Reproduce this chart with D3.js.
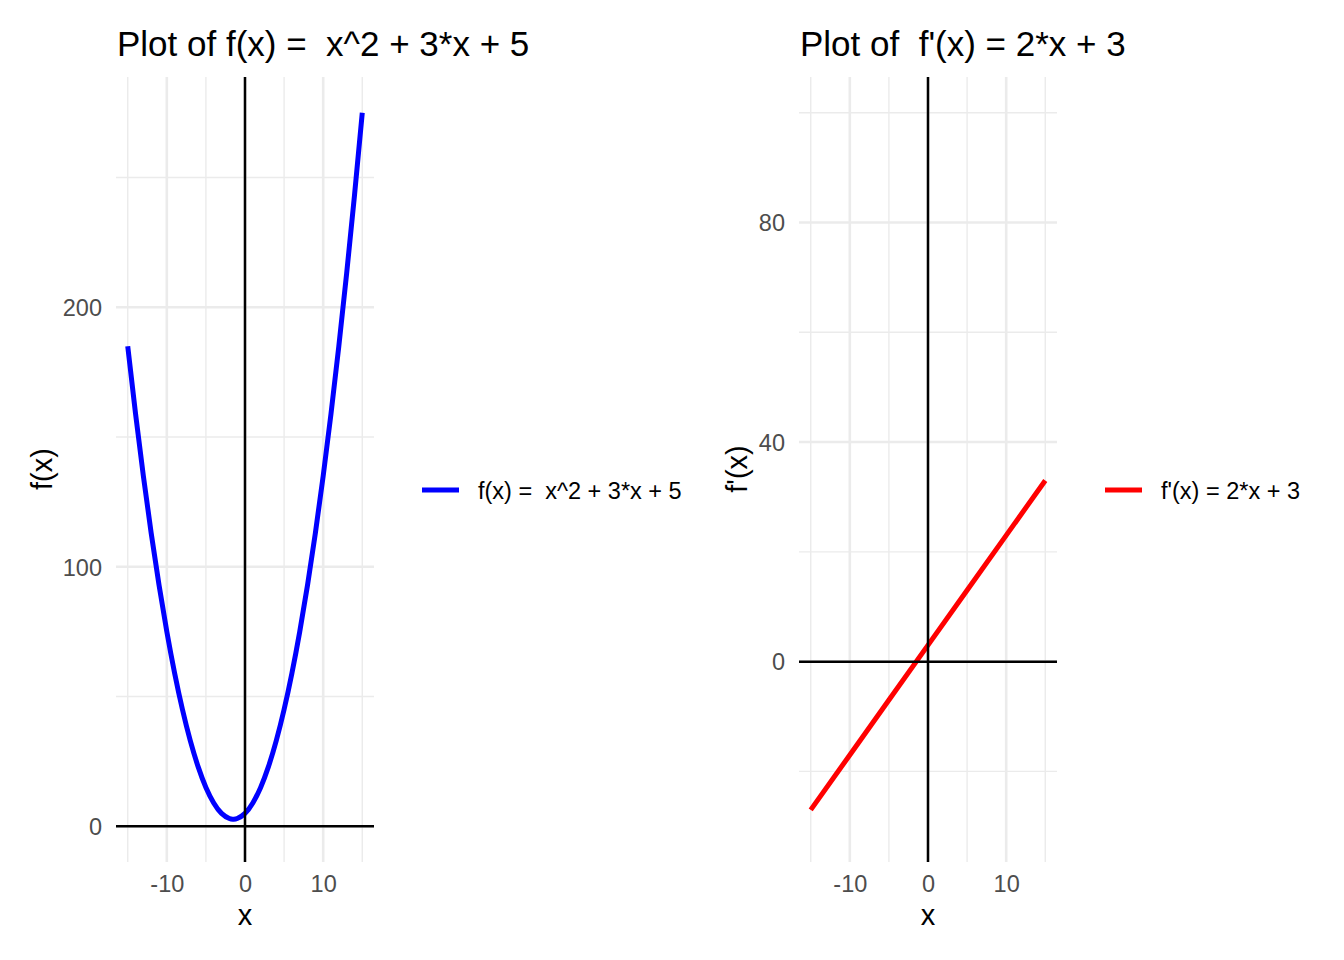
<!DOCTYPE html>
<html><head><meta charset="utf-8">
<script src="https://cdn.jsdelivr.net/npm/d3@7"></script>
<style>body{margin:0;background:#fff}svg{display:block;font-family:"Liberation Sans",Arial,sans-serif}text{white-space:pre}</style>
</head><body><svg id="c" width="1344" height="960"></svg>
<script>
// Data
const fX = [-15,-14,-13,-12,-11,-10,-9,-8,-7,-6,-5,-4,-3,-2,-1.5,-1,0,1,2,3,4,5,6,7,8,9,10,11,12,13,14,15];
const fY = [185,159,135,113,93,75,59,45,33,23,15,9,5,3,2.75,3,5,9,15,23,33,45,59,75,93,113,135,159,185,213,243,275];
const dX = [-15,-10,-5,0,5,10,15];
const dY = [-27,-17,-7,3,13,23,33];
const xTicks = [-10,0,10];
const xMinor = [-15,-5,5,15];
const fYTicks = [0,100,200];
const fYMinor = [50,150,250];
const dYTicks = [0,40,80];
const dYMinor = [-20,20,60,100];

const svg = d3.select("#c");

function panel(o){
  const g = svg.append("g");
  const x = d3.scaleLinear().domain([-16.5,16.5]).range([o.left,o.right]);
  const y = d3.scaleLinear().domain(o.yDomain).range([o.bottom,o.top]);
  const gc = "#ebebeb";
  g.selectAll(".vm").data(xMinor).join("line").attr("x1",d=>x(d)).attr("x2",d=>x(d))
    .attr("y1",o.top).attr("y2",o.bottom).attr("stroke",gc).attr("stroke-width",1.4);
  g.selectAll(".hm").data(o.yMinor).join("line").attr("y1",d=>y(d)).attr("y2",d=>y(d))
    .attr("x1",o.left).attr("x2",o.right).attr("stroke",gc).attr("stroke-width",1.4);
  g.selectAll(".vM").data(xTicks).join("line").attr("x1",d=>x(d)).attr("x2",d=>x(d))
    .attr("y1",o.top).attr("y2",o.bottom).attr("stroke",gc).attr("stroke-width",2.6);
  g.selectAll(".hM").data(o.yTicks).join("line").attr("y1",d=>y(d)).attr("y2",d=>y(d))
    .attr("x1",o.left).attr("x2",o.right).attr("stroke",gc).attr("stroke-width",2.6);
  const line = d3.line().x(d=>x(d[0])).y(d=>y(d[1])).curve(o.curve);
  g.append("path").datum(o.xs.map((v,i)=>[v,o.ys[i]])).attr("d",line)
    .attr("fill","none").attr("stroke",o.color).attr("stroke-width",5);
  g.append("line").attr("x1",o.left).attr("x2",o.right).attr("y1",y(0)).attr("y2",y(0))
    .attr("stroke","#000").attr("stroke-width",2.5);
  g.append("line").attr("x1",x(0)).attr("x2",x(0)).attr("y1",o.top).attr("y2",o.bottom)
    .attr("stroke","#000").attr("stroke-width",2.5);
  const fmt = d => String(d);
  const xa = d3.axisBottom(x).tickValues(xTicks).tickSize(0).tickPadding(0).tickFormat(fmt);
  const xg = g.append("g").attr("transform",`translate(0,${o.bottom+30})`).call(xa);
  xg.select(".domain").remove();
  xg.selectAll("text").attr("font-size",23.5).attr("fill","#4d4d4d").attr("dy",0)
    .attr("font-family","Liberation Sans, Arial, sans-serif");
  const ya = d3.axisLeft(y).tickValues(o.yTicks).tickSize(0).tickPadding(0).tickFormat(fmt);
  const yg = g.append("g").attr("transform",`translate(${o.left-14},0)`).call(ya);
  yg.select(".domain").remove();
  yg.selectAll("text").attr("font-size",23.5).attr("fill","#4d4d4d").attr("dy","0.35em")
    .attr("font-family","Liberation Sans, Arial, sans-serif");
  g.append("text").attr("x",(o.left+o.right)/2).attr("y",925).attr("text-anchor","middle")
    .attr("font-size",29).text("x");
  g.append("text").attr("transform",`translate(${o.ytx},469) rotate(-90)`).attr("text-anchor","middle")
    .attr("font-size",29).text(o.ylab);
  g.append("text").attr("x",o.left+1).attr("y",56).attr("font-size",35).text(o.title);
  g.append("line").attr("x1",o.legX).attr("x2",o.legX+37).attr("y1",490).attr("y2",490)
    .attr("stroke",o.color).attr("stroke-width",5);
  g.append("text").attr("x",o.legX+56).attr("y",498.5).attr("font-size",23.5).text(o.legend);
}

panel({left:116,right:374,top:77,bottom:862,yDomain:[-13.75,288.75],
  yTicks:fYTicks,yMinor:fYMinor,xs:fX,ys:fY,color:"#0000ff",curve:d3.curveNatural,
  ylab:"f(x)",ytx:52,title:"Plot of f(x) =  x^2 + 3*x + 5",legX:422,legend:"f(x) =  x^2 + 3*x + 5"});
panel({left:799,right:1057,top:77,bottom:862,yDomain:[-36.5,106.5],
  yTicks:dYTicks,yMinor:dYMinor,xs:dX,ys:dY,color:"#ff0000",curve:d3.curveLinear,
  ylab:"f'(x)",ytx:747,title:"Plot of  f'(x) = 2*x + 3",legX:1105,legend:"f'(x) = 2*x + 3"});
</script></body></html>
